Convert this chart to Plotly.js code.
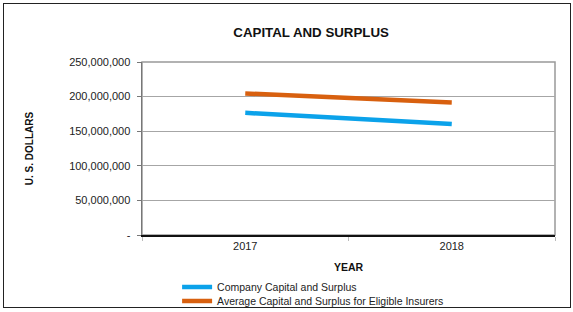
<!DOCTYPE html>
<html><head><meta charset="utf-8">
<script src="https://cdn.plot.ly/plotly-3.0.1.min.js"></script>
<style>
html,body{margin:0;padding:0;background:#fff;}
#chart{width:573px;height:312px;position:absolute;left:0;top:0;}
#frame{position:absolute;left:3px;top:3px;width:566px;height:303px;border:1.5px solid #222;pointer-events:none;}
</style></head>
<body>
<div id="chart"></div>
<div id="frame"></div>
<script>
const years = ['2017', '2018'];
const companyCS = [176500000, 160500000];
const averageCS = [204500000, 191500000];
const seriesNames = ['Company Capital and Surplus', 'Average Capital and Surplus for Eligible Insurers'];
const yTickVals = [0, 50000000, 100000000, 150000000, 200000000, 250000000];
const yTickText = ['-', '50,000,000', '100,000,000', '150,000,000', '200,000,000', '250,000,000'];

const font = 'Liberation Sans, Arial, sans-serif';
const traces = [
  {x: years, y: companyCS, name: seriesNames[0], type: 'scatter', mode: 'lines',
   line: {color: '#0ba2ea', width: 4.5}, legend: 'legend'},
  {x: years, y: averageCS, name: seriesNames[1], type: 'scatter', mode: 'lines',
   line: {color: '#d8600f', width: 4.5}, legend: 'legend2'}
];
const legendBase = {orientation: 'v', x: 0.085, xanchor: 'left', yanchor: 'middle',
  font: {size: 10.5, family: font, color: '#222'}, itemwidth: 30, bgcolor: 'rgba(0,0,0,0)'};
const layout = {
  width: 573, height: 312,
  margin: {l: 142, r: 18, t: 62, b: 77, autoexpand: false},
  paper_bgcolor: '#fff', plot_bgcolor: '#fff',
  font: {family: font, color: '#222', size: 11},
  title: {text: '<b>CAPITAL AND SURPLUS</b>', font: {size: 13.3, family: font, color: '#111'},
          x: 0.543, xanchor: 'center', y: 0.897, yanchor: 'middle'},
  xaxis: {type: 'category', range: [-0.5, 1.5], showgrid: false, zeroline: false,
          showline: true, linecolor: '#111', linewidth: 1.5,
          ticks: 'outside', tickson: 'boundaries', ticklen: 4, tickcolor: '#bbb',
          tickfont: {size: 11, family: font, color: '#222'},
          title: {text: '<b>YEAR</b>', font: {size: 10.5, family: font, color: '#111'}, standoff: 13}},
  yaxis: {range: [0, 250000000], tickvals: yTickVals, ticktext: yTickText,
          showgrid: true, gridcolor: '#a6a6a6', gridwidth: 1, zeroline: false,
          showline: true, linecolor: '#777', linewidth: 1.5,
          ticks: 'outside', ticklen: 4, tickcolor: '#777', ticklabelstandoff: 4,
          tickfont: {size: 11, family: font, color: '#222'},
          title: {text: '<b>U. S. DOLLARS</b>', font: {size: 10, family: font, color: '#111'}, standoff: 33}},
  shapes: [
    {type: 'rect', xref: 'paper', yref: 'paper', x0: 0, x1: 1, y0: 0, y1: 1,
     line: {color: '#999', width: 1.5}, layer: 'below'}
  ],
  showlegend: true,
  legend: Object.assign({}, legendBase, {y: -0.3006}),
  legend2: Object.assign({}, legendBase, {y: -0.3815})
};
Plotly.newPlot('chart', traces, layout, {displayModeBar: false, staticPlot: true});
</script>
</body></html>
